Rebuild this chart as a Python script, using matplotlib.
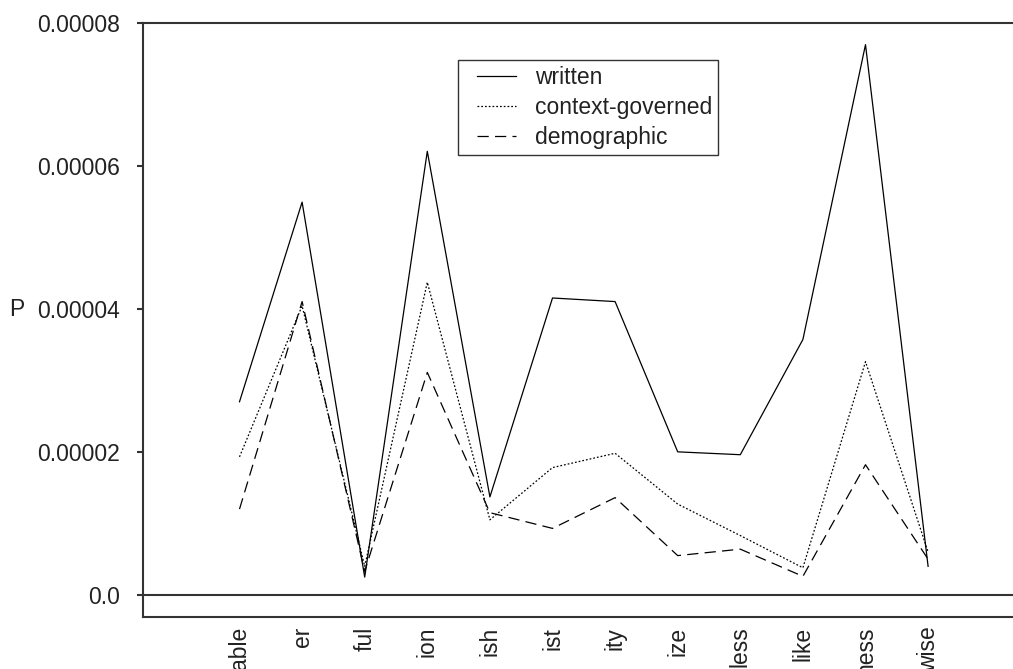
import matplotlib
matplotlib.use("Agg")
import matplotlib.pyplot as plt
from matplotlib.legend_handler import HandlerLine2D
from matplotlib.lines import Line2D

categories = ["able", "er", "ful", "ion", "ish", "ist", "ity", "ize", "less", "like", "ness", "wise"]
written = [2.70e-5, 5.49e-5, 0.25e-5, 6.20e-5, 1.37e-5, 4.15e-5, 4.10e-5, 2.00e-5, 1.96e-5, 3.57e-5, 7.69e-5, 0.40e-5]
context_governed = [1.93e-5, 4.04e-5, 0.40e-5, 4.37e-5, 1.05e-5, 1.78e-5, 1.98e-5, 1.27e-5, 0.83e-5, 0.38e-5, 3.26e-5, 0.60e-5]
demographic = [1.20e-5, 4.10e-5, 0.33e-5, 3.11e-5, 1.15e-5, 0.93e-5, 1.36e-5, 0.55e-5, 0.64e-5, 0.26e-5, 1.82e-5, 0.50e-5]
ytick_values = [0.0, 0.00002, 0.00004, 0.00006, 0.00008]
ytick_labels = ["0.0", "0.00002", "0.00004", "0.00006", "0.00008"]

plt.rcParams['font.family'] = ['Liberation Sans', 'DejaVu Sans']

fig = plt.figure(figsize=(10.13, 6.69), dpi=100)
ax = fig.add_axes([143/1013, 1-617/669, 1-143/1013, (617-22.5)/669])

x = list(range(len(categories)))
ax.plot(x, written, color='black', lw=0.9, ls='-', label='written')
ax.plot(x, context_governed, color='black', lw=0.9, ls=(0, (1.4, 1.6)), label='context-governed')
ax.plot(x, demographic, color='black', lw=0.9, ls=(0, (9, 5)), label='demographic')

ax.axhline(0, color='#333333', lw=1.5, zorder=1)

ax.set_xlim(-(239.5-143)/62.6, (1013-239.5)/62.6)
ax.set_ylim(-3.08e-6, 8.0e-5)

ax.spines['right'].set_visible(False)
for s in ['left', 'top', 'bottom']:
    ax.spines[s].set_color('#333333')
    ax.spines[s].set_linewidth(1.5)

ax.set_yticks(ytick_values)
ax.set_yticklabels(ytick_labels, fontsize=16.5, color='#222222')
ax.tick_params(axis='y', direction='out', length=4.5, width=1.5, color='#333333', pad=12)
ax.set_xticks(x)
ax.set_xticklabels(categories, rotation=90, fontsize=16.5, color='#222222', va='top')
ax.tick_params(axis='x', length=0, pad=7)

ax.set_ylabel('P', rotation=0, fontsize=16.5, color='#222222')
ax.yaxis.set_label_coords(-(143-17)/870, (617-309)/594.5)
ax.yaxis.label.set_va('center')
ax.yaxis.label.set_ha('center')

leg = fig.legend(loc='upper left', bbox_to_anchor=(458/1013, 1-60/669), fontsize=16.5,
                 frameon=True, fancybox=False, handlelength=2.3, handletextpad=0.83,
                 labelspacing=0.31, borderpad=0.25, borderaxespad=0,
                 handler_map={Line2D: HandlerLine2D(xpad=0.57)})
leg.get_frame().set_edgecolor('black')
leg.get_frame().set_linewidth(1.0)
for t in leg.get_texts():
    t.set_color('#222222')

fig.savefig('out.png', dpi=100)
